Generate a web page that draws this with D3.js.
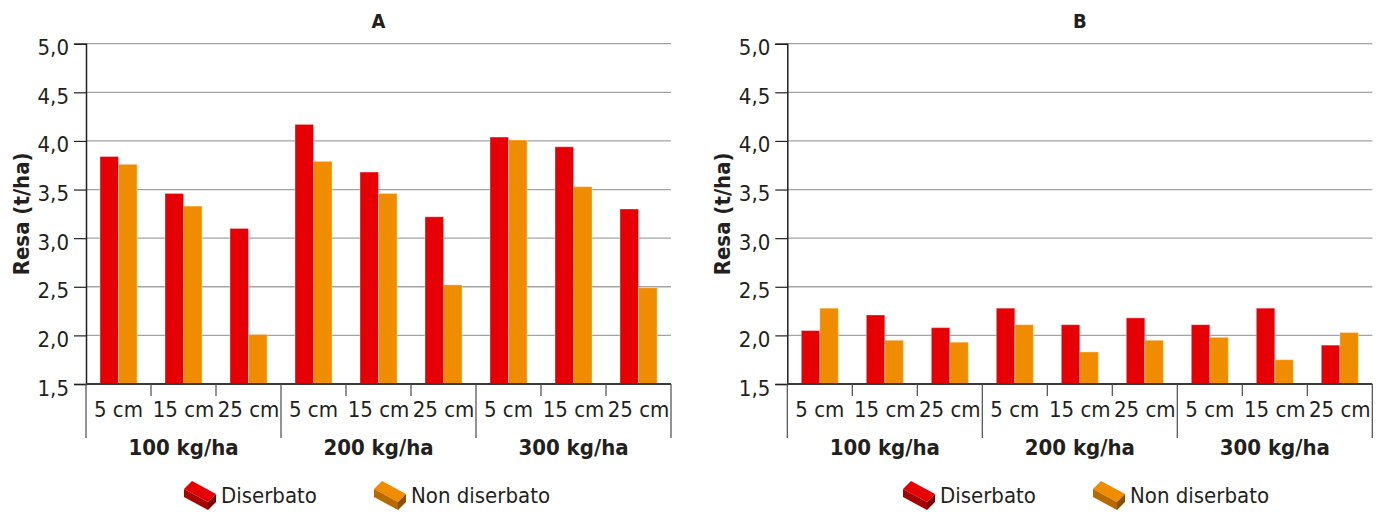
<!DOCTYPE html>
<html>
<head>
<meta charset="utf-8">
<script src="https://cdn.jsdelivr.net/npm/d3@7"></script>
<style>
  html, body { margin: 0; padding: 0; background: #fff; }
  svg { display: block; }
  text { font-family: "DejaVu Sans Condensed", "DejaVu Sans", sans-serif; font-stretch: condensed; fill: #231f20; }
</style>
</head>
<body>
<svg id="chart" width="1386" height="512"></svg>
<script>
// ---------- data ----------
const depths = ["5 cm", "15 cm", "25 cm"];
const doses = ["100 kg/ha", "200 kg/ha", "300 kg/ha"];
const seriesNames = ["Diserbato", "Non diserbato"];
const panelTitles = ["A", "B"];
const yTicks = [1.5, 2.0, 2.5, 3.0, 3.5, 4.0, 4.5, 5.0];

const A_diserbato    = [3.84, 3.46, 3.10, 4.17, 3.68, 3.22, 4.04, 3.94, 3.30];
const A_nonDiserbato = [3.76, 3.33, 2.01, 3.79, 3.46, 2.52, 4.01, 3.53, 2.49];
const B_diserbato    = [2.05, 2.21, 2.08, 2.28, 2.11, 2.18, 2.11, 2.28, 1.90];
const B_nonDiserbato = [2.28, 1.95, 1.93, 2.11, 1.83, 1.95, 1.98, 1.75, 2.03];

// ---------- layout ----------
const colors = { "Diserbato": "#e60005", "Non diserbato": "#f08c00" };
const brickFaces = {
  "Diserbato": ["#e60005", "#a80000", "#7c0000"],
  "Non diserbato": ["#f08c00", "#b86a00", "#8a5000"]
};
const panels = [
  { title: panelTitles[0], left: 86, right: 671, s1: A_diserbato, s2: A_nonDiserbato, legendX: [184, 374] },
  { title: panelTitles[1], left: 787.3, right: 1372.3, s1: B_diserbato, s2: B_nonDiserbato, legendX: [903, 1093] }
];
const plotTop = 43.7, plotBottom = 384;

const svg = d3.select("#chart");
const fmt = d => d3.format(".1f")(d).replace(".", ",");

const categories = [];
doses.forEach(g => depths.forEach(d => categories.push(g + "|" + d)));

panels.forEach(p => {
  const g = svg.append("g");
  const y = d3.scaleLinear().domain([1.5, 5.0]).range([plotBottom, plotTop]);
  const x0 = d3.scaleBand().domain(categories).range([p.left, p.right]).paddingInner(0).paddingOuter(0);
  const x1 = d3.scaleBand().domain(seriesNames).range([0, x0.bandwidth()]).paddingInner(0).paddingOuter(0.757);
  const xg = d3.scaleBand().domain(doses).range([p.left, p.right]);

  // gridlines
  g.append("g").selectAll("line").data(yTicks.filter(t => t > 1.5)).join("line")
    .attr("x1", p.left).attr("x2", p.right)
    .attr("y1", d => y(d)).attr("y2", d => y(d))
    .attr("stroke", "#a3a3a3").attr("stroke-width", 1.3);

  // bars
  const rows = categories.map((c, i) => ({ c, vals: [p.s1[i], p.s2[i]] }));
  g.append("g").selectAll("g").data(rows).join("g")
    .attr("transform", d => `translate(${x0(d.c)},0)`)
    .selectAll("rect").data(d => d.vals.map((v, j) => ({ s: seriesNames[j], v })))
    .join("rect")
    .attr("x", d => x1(d.s))
    .attr("width", x1.bandwidth())
    .attr("y", d => y(d.v))
    .attr("height", d => y(1.5) - y(d.v))
    .attr("fill", d => colors[d.s])
    .attr("stroke", "rgba(255,255,255,0.35)")
    .attr("stroke-width", 1);

  // y axis
  const yAxis = d3.axisLeft(y).tickValues(yTicks).tickFormat(fmt).tickSize(12).tickPadding(5);
  const ya = g.append("g").attr("transform", `translate(${p.left},0)`).call(yAxis);
  ya.select(".domain").attr("stroke", "#231f20").attr("stroke-width", 1.5);
  ya.selectAll(".tick line").attr("stroke", "#231f20").attr("stroke-width", 1.2);
  ya.selectAll(".tick text").attr("font-size", 22).attr("dy", "0.50em")
    .style("font-family", '"DejaVu Sans Condensed", "DejaVu Sans", sans-serif').attr("fill", "#231f20");

  // x axis baseline
  g.append("line").attr("x1", p.left).attr("x2", p.right).attr("y1", plotBottom).attr("y2", plotBottom)
    .attr("stroke", "#3a3a3a").attr("stroke-width", 2);

  // inner category ticks
  g.append("g").selectAll("line").data(categories.filter((c, i) => i % 3 !== 0)).join("line")
    .attr("x1", d => x0(d)).attr("x2", d => x0(d))
    .attr("y1", plotBottom).attr("y2", plotBottom + 12)
    .attr("stroke", "#4a4a4a").attr("stroke-width", 1.2);

  // group separators
  const seps = doses.map(d => xg(d)).concat([p.right]);
  g.append("g").selectAll("line").data(seps).join("line")
    .attr("x1", d => d).attr("x2", d => d)
    .attr("y1", plotBottom).attr("y2", plotBottom + 54)
    .attr("stroke", "#4a4a4a").attr("stroke-width", 1.2);

  // category labels
  g.append("g").selectAll("text").data(categories).join("text")
    .attr("x", d => x0(d) + x0.bandwidth() / 2)
    .attr("y", 417)
    .attr("text-anchor", "middle")
    .attr("font-size", 22)
    .text(d => d.split("|")[1]);

  // group labels
  g.append("g").selectAll("text").data(doses).join("text")
    .attr("x", d => xg(d) + xg.bandwidth() / 2)
    .attr("y", 455)
    .attr("text-anchor", "middle")
    .attr("font-size", 22).attr("font-weight", "bold")
    .text(d => d);

  // title
  g.append("text").attr("x", (p.left + p.right) / 2).attr("y", 28)
    .attr("text-anchor", "middle").attr("font-size", 20).attr("font-weight", "bold")
    .text(p.title);

  // y axis title
  g.append("text")
    .attr("transform", `translate(${p.left - 57},${(plotTop + plotBottom) / 2}) rotate(-90)`)
    .attr("text-anchor", "middle").attr("font-size", 22).attr("font-weight", "bold")
    .text("Resa (t/ha)");

  // legend
  seriesNames.forEach((s, i) => {
    const lx = p.legendX[i], ly = 481;
    const f = brickFaces[s];
    const lg = g.append("g").attr("transform", `translate(${lx},${ly})`);
    lg.append("path").attr("d", "M0,8 L8,0 L32,13 L24,21 Z").attr("fill", f[0]);
    lg.append("path").attr("d", "M0,8 L24,21 L24,29 L0,16 Z").attr("fill", f[1]);
    lg.append("path").attr("d", "M24,21 L32,13 L32,21 L24,29 Z").attr("fill", f[2]);
    lg.append("text").attr("x", 37).attr("y", 22).attr("font-size", 22).text(s);
  });
});
</script>
</body>
</html>
